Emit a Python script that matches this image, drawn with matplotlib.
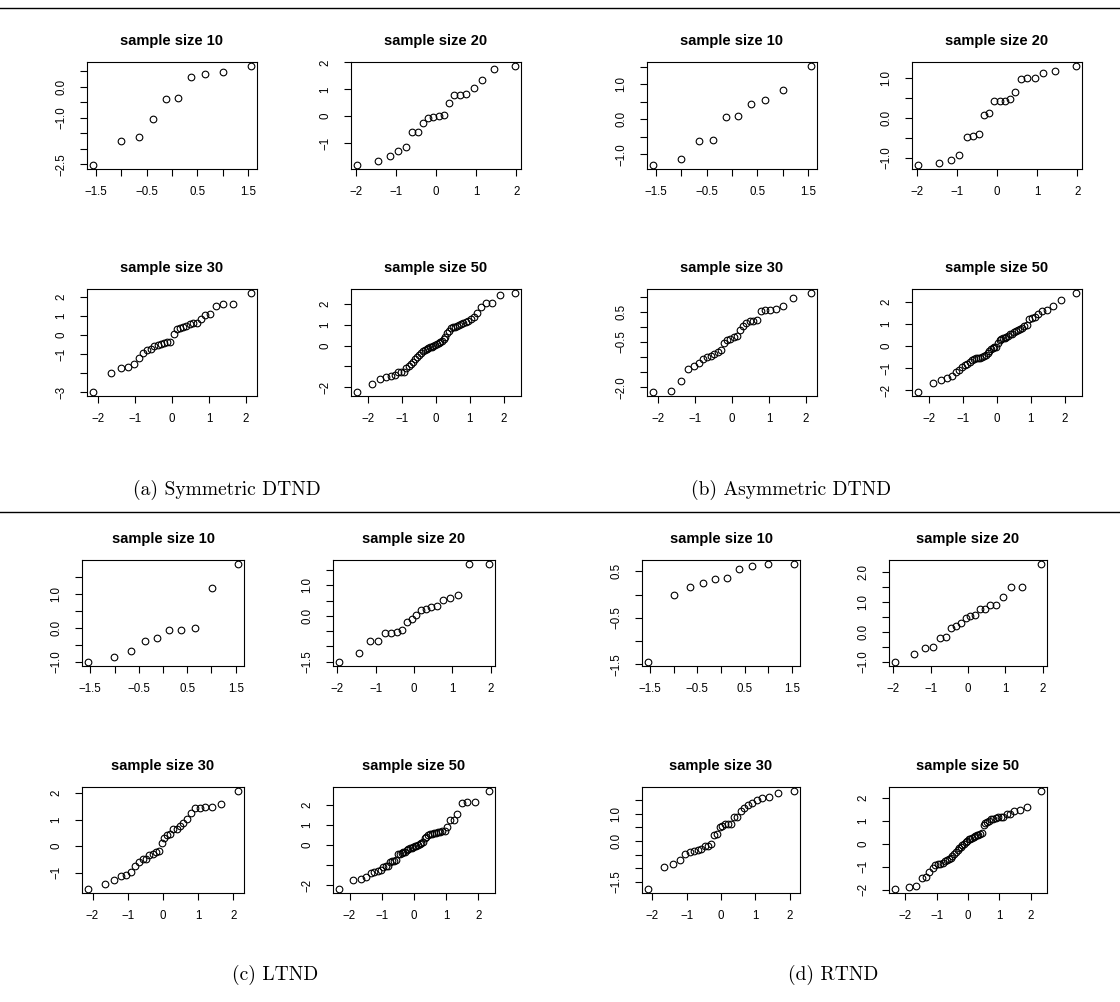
import matplotlib
matplotlib.use("Agg")
import matplotlib.pyplot as plt
from matplotlib.lines import Line2D
from statistics import NormalDist

plt.rcParams['font.family'] = ['Liberation Sans', 'DejaVu Sans']

W, H = 1120, 1002

## sorted samples

sym10 = [-2.52, -1.74, -1.62, -1.04, -0.40, -0.355, 0.30, 0.41, 0.46, 0.66]
sym20 = [-1.82, -1.66, -1.48, -1.30, -1.16, -0.59, -0.59, -0.24, -0.06, -0.03,
         0.01, 0.06, 0.50, 0.79, 0.79, 0.82, 1.06, 1.33, 1.75, 1.87]
sym30 = [-2.99, -1.99, -1.73, -1.68, -1.54, -1.19, -0.94, -0.80, -0.75, -0.59,
         -0.52, -0.47, -0.42, -0.37, -0.35, 0.07, 0.30, 0.38, 0.42, 0.45,
         0.57, 0.60, 0.63, 0.82, 1.05, 1.08, 1.49, 1.59, 1.61, 2.19]
sym50 = [-2.24, -1.87, -1.61, -1.53, -1.47, -1.42, -1.29, -1.29, -1.27, -1.10,
         -1.00, -0.87, -0.79, -0.65, -0.55, -0.44, -0.34, -0.27, -0.23, -0.18,
         -0.13, -0.08, -0.05, 0.00, 0.03, 0.08, 0.13, 0.18, 0.23, 0.29,
         0.42, 0.60, 0.71, 0.82, 0.87, 0.90, 0.95, 0.98, 1.03, 1.08,
         1.13, 1.19, 1.29, 1.39, 1.58, 1.87, 2.05, 2.05, 2.44, 2.53]

asy10 = [-1.31, -1.14, -0.63, -0.59, 0.08, 0.11, 0.43, 0.55, 0.83, 1.53]
asy20 = [-1.18, -1.14, -1.05, -0.92, -0.47, -0.45, -0.40, 0.08, 0.12, 0.42,
         0.44, 0.44, 0.49, 0.66, 0.97, 1.00, 1.01, 1.14, 1.18, 1.31]
asy30 = [-2.16, -2.14, -1.78, -1.40, -1.29, -1.19, -1.07, -1.01, -0.98, -0.89,
         -0.82, -0.78, -0.52, -0.43, -0.39, -0.34, -0.30, -0.12, 0.03, 0.12,
         0.19, 0.20, 0.22, 0.51, 0.54, 0.56, 0.58, 0.70, 0.94, 1.12]
asy50 = [-2.08, -1.68, -1.53, -1.45, -1.36, -1.18, -1.09, -0.94, -0.88, -0.82,
         -0.73, -0.64, -0.58, -0.56, -0.56, -0.55, -0.48, -0.45, -0.41, -0.33,
         -0.24, -0.15, -0.08, -0.06, -0.06, 0.15, 0.27, 0.32, 0.35, 0.38,
         0.42, 0.45, 0.52, 0.56, 0.61, 0.67, 0.71, 0.76, 0.82, 0.89,
         0.94, 1.21, 1.24, 1.30, 1.42, 1.56, 1.61, 1.80, 2.09, 2.39]

lt10 = [-1.00, -0.86, -0.67, -0.39, -0.31, -0.07, -0.05, -0.01, 1.16, 1.87]
lt20 = [-1.51, -1.21, -0.83, -0.83, -0.57, -0.57, -0.53, -0.47, -0.20, -0.09,
        0.04, 0.18, 0.23, 0.29, 0.32, 0.52, 0.59, 0.67, 1.70, 1.70]
lt30 = [-1.62, -1.42, -1.28, -1.12, -1.08, -0.97, -0.75, -0.61, -0.50, -0.47,
        -0.33, -0.28, -0.24, -0.20, 0.13, 0.32, 0.41, 0.44, 0.64, 0.66,
        0.76, 0.87, 1.03, 1.23, 1.42, 1.43, 1.47, 1.49, 1.59, 2.08]
lt50 = [-2.20, -1.75, -1.68, -1.60, -1.42, -1.36, -1.31, -1.27, -1.12, -1.07,
        -1.04, -0.86, -0.81, -0.78, -0.73, -0.46, -0.43, -0.40, -0.36, -0.33,
        -0.26, -0.18, -0.15, -0.13, -0.08, -0.07, -0.03, 0.00, 0.05, 0.08,
        0.13, 0.36, 0.43, 0.50, 0.55, 0.58, 0.60, 0.63, 0.66, 0.68,
        0.71, 0.71, 0.89, 1.26, 1.27, 1.57, 2.13, 2.18, 2.18, 2.71]

rt10 = [-1.45, -0.01, 0.17, 0.25, 0.34, 0.35, 0.55, 0.61, 0.65, 0.66]
rt20 = [-1.01, -0.74, -0.53, -0.50, -0.22, -0.16, 0.13, 0.20, 0.28, 0.47,
        0.52, 0.56, 0.76, 0.76, 0.91, 0.91, 1.18, 1.49, 1.51, 2.27]
rt30 = [-1.76, -0.96, -0.85, -0.68, -0.46, -0.40, -0.38, -0.34, -0.28, -0.20,
        -0.17, -0.10, 0.23, 0.26, 0.51, 0.56, 0.63, 0.63, 0.63, 0.87,
        0.88, 1.10, 1.22, 1.31, 1.40, 1.49, 1.57, 1.61, 1.74, 1.83]
rt50 = [-1.97, -1.88, -1.83, -1.50, -1.45, -1.25, -1.06, -0.92, -0.90, -0.86,
        -0.82, -0.76, -0.71, -0.65, -0.60, -0.52, -0.43, -0.36, -0.27, -0.20,
        -0.14, -0.06, 0.00, 0.07, 0.13, 0.19, 0.22, 0.24, 0.27, 0.32,
        0.36, 0.39, 0.42, 0.45, 0.83, 0.91, 0.96, 0.99, 1.05, 1.07,
        1.11, 1.14, 1.14, 1.17, 1.28, 1.31, 1.44, 1.48, 1.58, 2.29]

## y ticks and which of them carry a label (R drops the overlapping ones)
h = [-2.5, -2.0, -1.5, -1.0, -0.5, 0.0, 0.5, 1.0, 1.5, 2.0]
yt = {
    'sym10': (h[0:7], [-2.5, -1.0, 0.0], 1),
    'sym20': ([-1, 0, 1, 2], [-1, 0, 1, 2], 0),
    'sym30': ([-3, -2, -1, 0, 1, 2], [-3, -1, 0, 1, 2], 0),
    'sym50': ([-2, -1, 0, 1, 2], [-2, 0, 1, 2], 0),
    'asy10': (h[3:9], [-1.0, 0.0, 1.0], 1),
    'asy20': (h[3:8], [-1.0, 0.0, 1.0], 1),
    'asy30': (h[1:8], [-2.0, -0.5, 0.5], 1),
    'asy50': ([-2, -1, 0, 1, 2], [-2, -1, 0, 1, 2], 0),
    'lt10': (h[3:9], [-1.0, 0.0, 1.0], 1),
    'lt20': (h[2:9], [-1.5, 0.0, 1.0], 1),
    'lt30': ([-1, 0, 1, 2], [-1, 0, 1, 2], 0),
    'lt50': ([-2, -1, 0, 1, 2], [-2, 0, 1, 2], 0),
    'rt10': (h[2:7], [-1.5, -0.5, 0.5], 1),
    'rt20': (h[3:10], [-1.0, 0.0, 1.0, 2.0], 1),
    'rt30': (h[2:9], [-1.5, 0.0, 1.0], 1),
    'rt50': ([-2, -1, 0, 1, 2], [-2, -1, 0, 1, 2], 0),
}
samples = {'sym10': sym10, 'sym20': sym20, 'sym30': sym30, 'sym50': sym50,
           'asy10': asy10, 'asy20': asy20, 'asy30': asy30, 'asy50': asy50,
           'lt10': lt10, 'lt20': lt20, 'lt30': lt30, 'lt50': lt50,
           'rt10': rt10, 'rt20': rt20, 'rt30': rt30, 'rt50': rt50}


def qq_x(n):
    # theoretical quantiles like R's qqnorm (ppoints)
    a = 3/8 if n <= 10 else 0.5
    nd = NormalDist()
    return [nd.inv_cdf((i - a) / (n + 1 - 2*a)) for i in range(1, n + 1)]


def rlim(v):
    lo, hi = min(v), max(v)
    d = 0.04 * (hi - lo)
    return lo - d, hi + d


def lab(v, dec):
    return f"{v:.{dec}f}".replace("-", "\u2212")


fig = plt.figure(figsize=(W/100, H/100), dpi=100)


def qqplot(key, box):
    x0, y0, x1, y1 = box
    ax = fig.add_axes([x0/W, 1 - y1/H, (x1 - x0)/W, (y1 - y0)/H])
    y = samples[key]
    n = len(y)
    xs = qq_x(n)
    ax.plot(xs, y, 'o', mfc='none', mec='black', ms=4.8, mew=0.8)
    ax.set_xlim(rlim(xs))
    ax.set_ylim(rlim(y))
    if n <= 10:
        xt = [-1.5, -1.0, -0.5, 0.0, 0.5, 1.0, 1.5]
        xl = [lab(v, 1) if i % 2 == 0 else "" for i, v in enumerate(xt)]
    else:
        xt = [-2, -1, 0, 1, 2]
        xl = [lab(v, 0) for v in xt]
    ax.set_xticks(xt)
    ax.set_xticklabels(xl)
    ticks, shown, dec = yt[key]
    ax.set_yticks(ticks)
    ax.set_yticklabels([lab(v, dec) if v in shown else "" for v in ticks],
                       rotation=90, va='center')
    ax.tick_params(direction='out', length=5, width=0.8, labelsize=8.3)
    ax.tick_params(axis='x', pad=7)
    ax.tick_params(axis='y', pad=9)
    for s in ax.spines.values():
        s.set_linewidth(0.8)
    ax.set_title(f"sample size {n}", fontsize=10.5, fontweight='bold', pad=12)
    return ax


## pixel boxes of the plots: (left, top, right, bottom)
panels = [
    ('sym', [87, 351], 170, [62, 289], 107),
    ('asy', [647, 912], 170, [62, 289], 107),
    ('lt', [82, 333], 162, [560, 787], 106),
    ('rt', [642, 889], 158, [560, 787], 106),
]
sizes = [[10, 20], [30, 50]]

for name, lefts, w, tops, hh in panels:
    for r in range(2):
        for c in range(2):
            qqplot(f"{name}{sizes[r][c]}",
                   (lefts[c], tops[r], lefts[c] + w, tops[r] + hh))

captions = ["(a) Symmetric DTND", "(b) Asymmetric DTND", "(c) LTND", "(d) RTND"]
cap_pos = [(227, 490), (791, 490), (275, 975), (833, 975)]
for t, (cx, cy) in zip(captions, cap_pos):
    fig.text(cx/W, 1 - cy/H, t, family='cmr10', fontsize=14,
             ha='center', va='center')

for ly in [8, 512]:
    fig.add_artist(Line2D([0, 1], [1 - ly/H, 1 - ly/H], color='black', lw=1))

fig.savefig("out.png", dpi=100)
